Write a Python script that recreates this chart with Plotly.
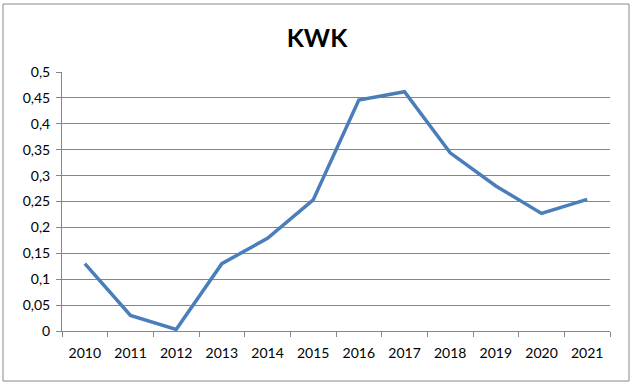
import plotly.graph_objects as go

years = ["2010", "2011", "2012", "2013", "2014", "2015", "2016", "2017", "2018", "2019", "2020", "2021"]
kwk = [0.13, 0.03, 0.003, 0.13, 0.179, 0.253, 0.446, 0.462, 0.344, 0.28, 0.227, 0.254]
y_ticks = [0, 0.05, 0.1, 0.15, 0.2, 0.25, 0.3, 0.35, 0.4, 0.45, 0.5]

W, H = 634, 387
L, R, T, B = 62, 24, 72, 56
pw, ph = W - L - R, H - T - B

fig = go.Figure()
fig.add_trace(go.Scatter(x=years, y=kwk, mode="lines",
                         line=dict(color="#4A7EBB", width=3.5), showlegend=False))

font = "Lato, Open Sans, sans-serif"
fig.update_layout(
    width=W, height=H,
    margin=dict(l=L, r=R, t=T, b=B),
    paper_bgcolor="white", plot_bgcolor="white",
    separators=", ",
    title=dict(text="<b>KWK</b>", x=0.5, xref="container", xanchor="center",
               y=1 - 38 / H, yref="container", yanchor="middle",
               font=dict(family=font, size=25, color="black")),
    xaxis=dict(type="category", range=[-0.5, len(years) - 0.5],
               showline=True, linecolor="#868686", linewidth=1,
               ticks="outside", tickson="boundaries", ticklen=5, tickcolor="#868686",
               ticklabelstandoff=9,
               showgrid=False, tickfont=dict(family=font, size=14, color="black")),
    yaxis=dict(range=[0, 0.5], tickvals=y_ticks, showline=True, linecolor="#868686",
               linewidth=1, ticks="outside", ticklen=5, tickcolor="#868686",
               ticklabelstandoff=3,
               showgrid=True, gridcolor="#868686", gridwidth=1, zeroline=False,
               tickfont=dict(family=font, size=14, color="black")),
)

# outer chart border
x0 = (3 - L) / pw
x1 = (629 - L) / pw
y0 = (H - B - 381) / ph
y1 = (H - B - 4) / ph
fig.add_shape(type="rect", xref="paper", yref="paper", x0=x0, x1=x1, y0=y0, y1=y1,
              line=dict(color="#888888", width=1), layer="below")

fig.write_html("out.html")
